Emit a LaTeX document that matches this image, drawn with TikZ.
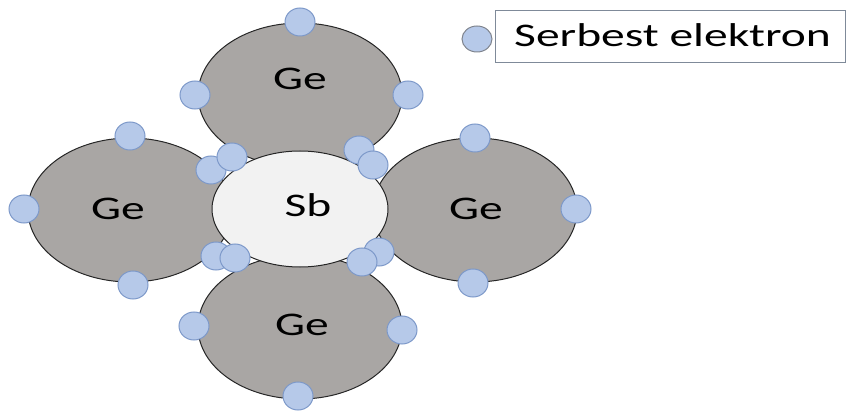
\documentclass[tikz,border=0pt]{standalone}
\usepackage{fontspec}
\usepackage{graphicx}
\setmainfont{Carlito}
\usetikzlibrary{shapes.geometric}
\definecolor{atomgray}{HTML}{A9A6A4}
\definecolor{coregray}{HTML}{F2F2F2}
\definecolor{elfill}{HTML}{B6C9E9}
\definecolor{eldraw}{HTML}{7C98C9}
\definecolor{boxdraw}{HTML}{7F8A99}
\newcommand\widetext[1]{\scalebox{1.44}[1]{#1}}
\tikzset{
  atom/.style={ellipse, draw=black!85, line width=1pt, fill=atomgray,
    minimum width=204pt, minimum height=144pt, inner sep=0pt},
  core/.style={ellipse, draw=black!85, line width=1pt, fill=coregray,
    minimum width=176pt, minimum height=116pt, inner sep=0pt},
  electron/.style={ellipse, draw=eldraw, line width=1pt, fill=elfill,
    minimum width=30pt, minimum height=28pt, inner sep=0pt},
  atomtext/.style={anchor=base, inner sep=0pt,
    font=\fontsize{33}{36}\selectfont},
}
\begin{document}
\begin{tikzpicture}[x=1pt,y=-1pt]
  \useasboundingbox (0,0) rectangle (846,414);
  % germanium atoms
  \node[atom] (getop) at (300,95) {};
  \node[atom] (geleft) at (130,210) {};
  \node[atom] (geright) at (475,210) {};
  \node[atom] (gebottom) at (300,327) {};
  % antimony atom in the middle
  \node[core] (sb) at (300,209) {};
  % atom labels
  \node[atomtext] (tgetop) at (300,90) {\widetext{Ge}};
  \node[atomtext] (tgeleft) at (118,220) {\widetext{Ge}};
  \node[atomtext] (tgeright) at (476,219) {\widetext{Ge}};
  \node[atomtext] (tgebottom) at (302,335) {\widetext{Ge}};
  \node[atomtext] (tsb) at (308,217) {\widetext{Sb}};
  % outer electrons
  \node[electron] (et1) at (300,22) {};
  \node[electron] (et2) at (195,95) {};
  \node[electron] (et3) at (408,95) {};
  \node[electron] (el1) at (130,136) {};
  \node[electron] (el2) at (24,209) {};
  \node[electron] (el3) at (133,285) {};
  \node[electron] (er1) at (475,138) {};
  \node[electron] (er2) at (576,209) {};
  \node[electron] (er3) at (473,283) {};
  \node[electron] (eb1) at (194,326) {};
  \node[electron] (eb2) at (402,330) {};
  \node[electron] (eb3) at (298,396) {};
  % bonding pairs around Sb
  \node[electron] (p1a) at (211,170) {};
  \node[electron] (p1b) at (232,157) {};
  \node[electron] (p2a) at (359,150) {};
  \node[electron] (p2b) at (373,165) {};
  \node[electron] (p3a) at (216,256) {};
  \node[electron] (p3b) at (235,258) {};
  \node[electron] (p4b) at (379,252) {};
  \node[electron] (p4a) at (362,262) {};
  % legend
  \node[electron, minimum height=26pt, draw=gray!80!eldraw] (legel) at (477,39) {};
  \node[draw=boxdraw, line width=1pt, fill=white, anchor=north west,
    minimum width=350pt, minimum height=52pt, inner sep=0pt] (legbox) at (495,10) {};
  \node[anchor=base west, inner sep=0pt, font=\fontsize{33}{36}\selectfont]
    (legtext) at (514,47) {\widetext{Serbest elektron}};
\end{tikzpicture}
\end{document}
